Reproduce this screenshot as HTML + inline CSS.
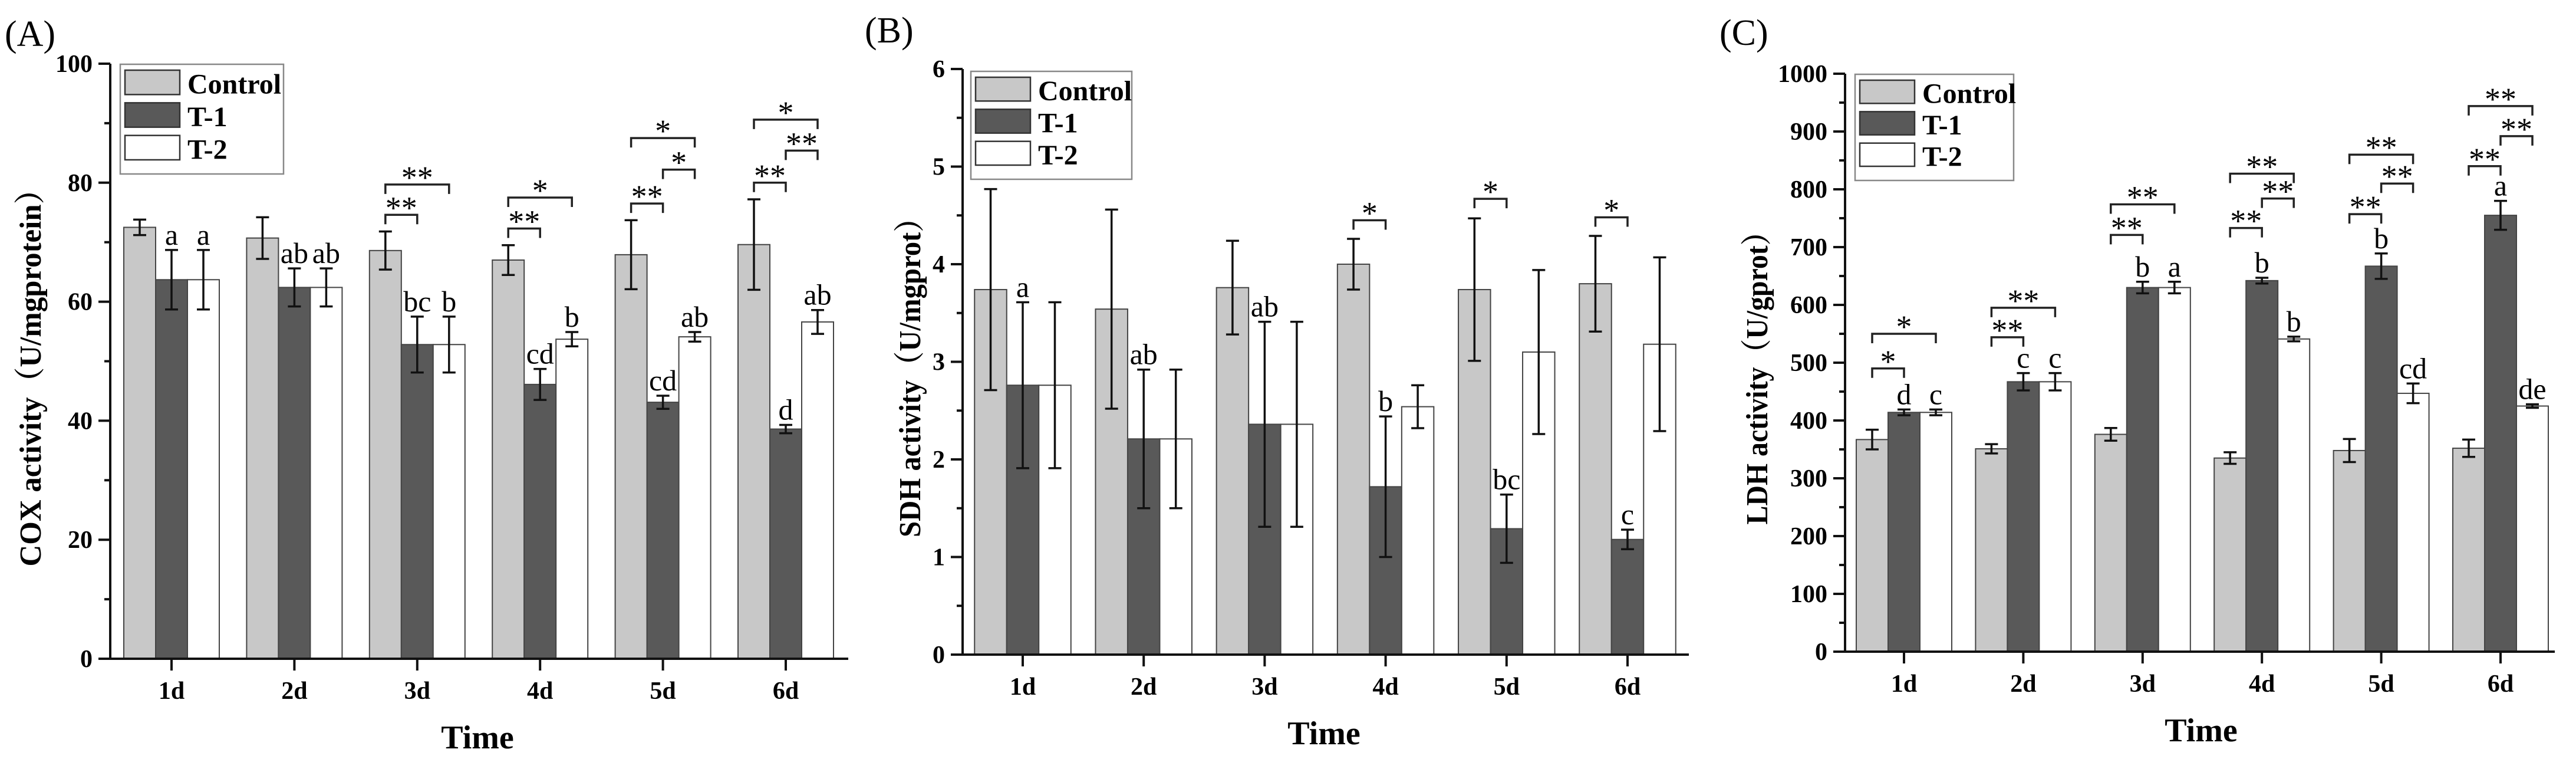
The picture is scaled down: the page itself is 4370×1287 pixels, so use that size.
<!DOCTYPE html>
<html><head><meta charset="utf-8"><style>
html,body{margin:0;padding:0;background:#fff;}
svg{display:block;}
text{font-family:"Liberation Serif","Noto Serif CJK SC",serif;}
</style></head><body>
<svg id="fig" width="4370" height="1287" viewBox="0 0 4370 1287" xmlns="http://www.w3.org/2000/svg"></svg>
<script>
// ---------- shared ----------
const categories = ["1d","2d","3d","4d","5d","6d"];
const seriesNames = ["Control","T-1","T-2"];

// ---------- Panel A: COX ----------
const aCtrl = [72.5,70.7,68.6,67.0,67.9,69.6];
const aCtrlErr = [1.3,3.5,3.2,2.5,5.8,7.6];
const aT1 = [63.7,62.4,52.8,46.1,43.1,38.6];
const aT1Err = [5.0,3.2,4.7,2.6,1.1,0.7];
const aT2 = [63.7,62.4,52.8,53.7,54.1,56.6];
const aT2Err = [5.0,3.2,4.7,1.2,0.8,2.0];
const aT1Let = ["a","ab","bc","cd","cd","d"];
const aT2Let = ["a","ab","b","b","ab","ab"];
const aSig = [[2,0,1,74.6,"**"],[2,0,2,79.7,"**"],[3,0,1,72.3,"**"],[3,0,2,77.5,"*"],
  [4,0,1,76.5,"**"],[4,1,2,82.2,"*"],[4,0,2,87.5,"*"],[5,0,1,80.0,"**"],[5,1,2,85.4,"**"],[5,0,2,90.6,"*"]];
const aTicks = [0,20,40,60,80,100];

// ---------- Panel B: SDH ----------
const bCtrl = [3.74,3.54,3.76,4.00,3.74,3.80];
const bCtrlErr = [1.03,1.02,0.48,0.26,0.73,0.49];
const bT1 = [2.76,2.21,2.36,1.72,1.29,1.18];
const bT1Err = [0.85,0.71,1.05,0.72,0.35,0.10];
const bT2 = [2.76,2.21,2.36,2.54,3.10,3.18];
const bT2Err = [0.85,0.71,1.05,0.22,0.84,0.89];
const bT1Let = ["a","ab","ab","b","bc","c"];
const bT2Let = ["","","","","",""];
const bSig = [[3,0,1,4.45,"*"],[4,0,1,4.67,"*"],[5,0,1,4.48,"*"]];
const bTicks = [0,1,2,3,4,5,6];

// ---------- Panel C: LDH ----------
const cCtrl = [367,351,376,335,348,352];
const cCtrlErr = [17,8,11,10,20,15];
const cT1 = [414,467,630,642,667,755];
const cT1Err = [5,15,10,5,22,25];
const cT2 = [414,467,630,541,447,425];
const cT2Err = [5,15,10,4,17,3];
const cT1Let = ["d","c","b","b","b","a"];
const cT2Let = ["c","c","a","b","cd","de"];
const cSig = [[0,0,1,490,"*"],[0,0,2,550,"*"],[1,0,1,544,"**"],[1,0,2,595,"**"],[2,0,1,721,"**"],[2,0,2,774,"**"],
  [3,0,1,733,"**"],[3,1,2,784,"**"],[3,0,2,827,"**"],[4,0,1,757,"**"],[4,1,2,810,"**"],[4,0,2,860,"**"],
  [5,0,1,840,"**"],[5,1,2,892,"**"],[5,0,2,944,"**"]];
const cTicks = [0,100,200,300,400,500,600,700,800,900,1000];

const NS = "http://www.w3.org/2000/svg";
const svg = document.getElementById("fig");
function mk(tag, attrs, parent, txt){
  const e = document.createElementNS(NS, tag);
  for (const k in attrs) e.setAttribute(k, attrs[k]);
  if (txt !== undefined) e.textContent = txt;
  (parent||svg).appendChild(e);
  return e;
}
const fills = ["#c8c8c8","#595959","#ffffff"];

function panel(cfg){
  const g = mk("g", {});
  
  
  const ys = v => cfg.y0 - (v / cfg.ymax) * (cfg.y0 - cfg.ytop);
  const xc = i => cfg.x1 + i * cfg.sp;
  const bw = cfg.bw;
  const pl = mk("text", {x:cfg.lx, y:cfg.ly, "font-size":62}, g, cfg.label);
  
  
  const series = [cfg.ctrl, cfg.t1, cfg.t2];
  const errs = [cfg.ctrlErr, cfg.t1Err, cfg.t2Err];
  const lets = [null, cfg.t1Let, cfg.t2Let];
  for (let i = 0; i < categories.length; i++){
    for (let s = 0; s < 3; s++){
      const cx = xc(i) + (s - 1) * bw;
      const v = series[s][i], e = errs[s][i];
      const r = mk("rect", {x:cx - bw/2, y:ys(v), width:bw, height:cfg.y0 - ys(v), fill:fills[s], stroke:"#444", "stroke-width":2}, g);
      
      
      const eg = mk("g", {stroke:"#111", "stroke-width":3.5}, g);
      
      
      mk("line", {x1:cx, x2:cx, y1:ys(v+e), y2:ys(v-e)}, eg);
      mk("line", {x1:cx-11, x2:cx+11, y1:ys(v+e), y2:ys(v+e)}, eg);
      mk("line", {x1:cx-11, x2:cx+11, y1:ys(v-e), y2:ys(v-e)}, eg);
      if (lets[s] && lets[s][i]){
        const t = mk("text", {x:cx, y:ys(v+e) - 9, "font-size":50, "text-anchor":"middle"}, g, lets[s][i]);
        
        
      }
    }
  }
  for (const b of cfg.sig){
    const xa = xc(b[0]) + (b[1]-1)*bw, xb = xc(b[0]) + (b[2]-1)*bw, y = ys(b[3]);
    const p = mk("path", {d:`M${xa} ${y+16} V${y} H${xb} V${y+16}`, fill:"none", stroke:"#222", "stroke-width":3.5}, g);
    
    
    const t = mk("text", {x:(xa+xb)/2, y:y + 6, "font-size":54, "text-anchor":"middle"}, g, b[4]);
    
    
  }
  const ax = mk("g", {stroke:"#111", "stroke-width":4}, g);
  
  
  mk("line", {x1:cfg.ax, x2:cfg.ax, y1:cfg.ytop, y2:cfg.y0+2}, ax);
  mk("line", {x1:cfg.ax-20, x2:cfg.xend, y1:cfg.y0, y2:cfg.y0}, ax);
  const step = cfg.ticks[1] - cfg.ticks[0];
  for (let k = 0; k < cfg.ticks.length; k++){
    const v = cfg.ticks[k];
    mk("line", {x1:cfg.ax-20, x2:cfg.ax, y1:ys(v), y2:ys(v)}, ax);
    if (k < cfg.ticks.length - 1) mk("line", {x1:cfg.ax-10, x2:cfg.ax, y1:ys(v+step/2), y2:ys(v+step/2)}, ax);
    const t = mk("text", {x:cfg.ax-30, y:ys(v)+14, "font-size":42, "font-weight":"bold", "text-anchor":"end"}, g, String(v));
    
    
  }
  for (let i = 0; i < categories.length; i++){
    mk("line", {x1:xc(i), x2:xc(i), y1:cfg.y0, y2:cfg.y0+20}, ax);
    const t = mk("text", {x:xc(i), y:cfg.y0+68, "font-size":42, "font-weight":"bold", "text-anchor":"middle"}, g, categories[i]);
    
    
  }
  const xt = mk("text", {x:cfg.tx, y:cfg.y0+152, "font-size":56, "font-weight":"bold", "text-anchor":"middle"}, g, "Time");
  
  
  const yt = mk("text", {x:0, y:0, "font-size":52, "font-weight":"bold", "text-anchor":"middle", "font-family":"'Liberation Serif','Noto Serif CJK SC',serif",
    transform:`translate(${cfg.ytx},${cfg.yty}) rotate(-90)`, textLength:cfg.ytw, lengthAdjust:"spacingAndGlyphs"}, g, cfg.ytitle);
  
  
  const lg = mk("g", {}, g);
  
  
  mk("rect", {x:cfg.lgx, y:cfg.lgy, width:cfg.lgw, height:cfg.lgh, fill:"#fff", stroke:"#888", "stroke-width":2.5}, lg);
  const rowH = (cfg.lgh - 20) / 3;
  for (let s = 0; s < 3; s++){
    const ry = cfg.lgy + 10 + s * rowH;
    const e = mk("g", {}, lg);
    
    
    mk("rect", {x:cfg.lgx+8, y:ry, width:93, height:rowH-14, fill:fills[s], stroke:"#333", "stroke-width":2.5}, e);
    mk("text", {x:cfg.lgx+114, y:ry + rowH/2 + 12, "font-size":48, "font-weight":"bold"}, e, seriesNames[s]);
  }
}

panel({key:"cox", label:"(A)", lx:8, ly:78, ax:187, y0:1117, ytop:108, ymax:100, ticks:aTicks, x1:291, sp:208.4, bw:54, xend:1439,
  ctrl:aCtrl, ctrlErr:aCtrlErr, t1:aT1, t1Err:aT1Err, t2:aT2, t2Err:aT2Err, t1Let:aT1Let, t2Let:aT2Let, sig:aSig,
  tx:810, ytx:69, yty:628, ytw:665, ytitle:"COX activity（U/mgprotein）", lgx:204, lgy:109, lgw:277, lgh:186});
panel({key:"sdh", label:"(B)", lx:1467, ly:72, ax:1633, y0:1110, ytop:117, ymax:6, ticks:bTicks, x1:1735, sp:205.2, bw:54.5, xend:2865,
  ctrl:bCtrl, ctrlErr:bCtrlErr, t1:bT1, t1Err:bT1Err, t2:bT2, t2Err:bT2Err, t1Let:bT1Let, t2Let:bT2Let, sig:bSig,
  tx:2246, ytx:1561, yty:628, ytw:566, ytitle:"SDH activity（U/mgprot）", lgx:1647, lgy:121, lgw:273, lgh:183});
panel({key:"ldh", label:"(C)", lx:2917, ly:76, ax:3130, y0:1105, ytop:125, ymax:1000, ticks:cTicks, x1:3230, sp:202.4, bw:54, xend:4334,
  ctrl:cCtrl, ctrlErr:cCtrlErr, t1:cT1, t1Err:cT1Err, t2:cT2, t2Err:cT2Err, t1Let:cT1Let, t2Let:cT2Let, sig:cSig,
  tx:3734, ytx:2998, yty:629, ytw:521, ytitle:"LDH activity（U/gprot）", lgx:3147, lgy:126, lgw:269, lgh:180});
</script>
</body></html>
